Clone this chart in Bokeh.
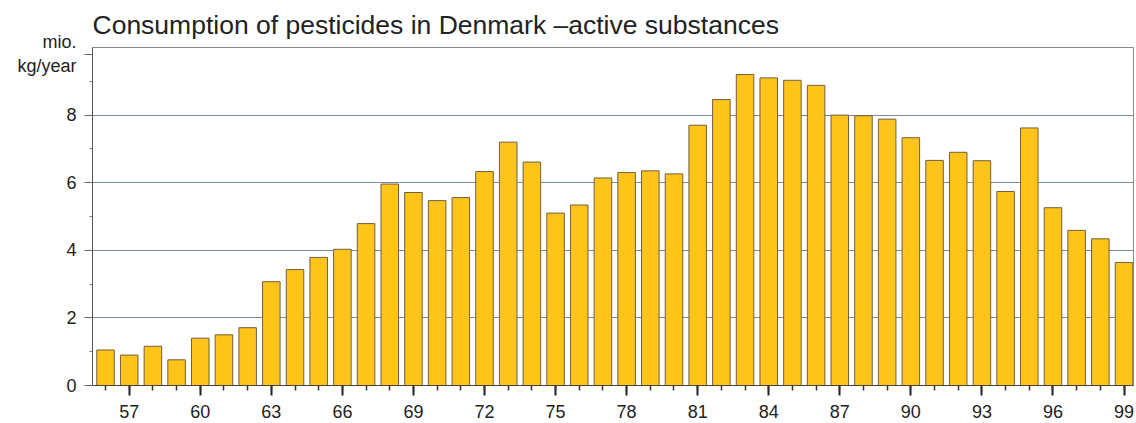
from bokeh.plotting import figure
from bokeh.models import FixedTicker, Range1d, ColumnDataSource
from bokeh.embed import file_html
from bokeh.resources import INLINE

years = list(range(56, 100))
consumption = [1.05, 0.90, 1.16, 0.76, 1.40, 1.50, 1.71, 3.07, 3.43, 3.79,
               4.03, 4.79, 5.96, 5.71, 5.47, 5.56, 6.33, 7.20, 6.61, 5.10,
               5.34, 6.14, 6.30, 6.35, 6.26, 7.70, 8.46, 9.20, 9.10, 9.03,
               8.88, 8.00, 7.98, 7.88, 7.33, 6.66, 6.90, 6.65, 5.74, 7.62,
               5.26, 4.59, 4.34, 3.64]
x_tick_labels = [57, 60, 63, 66, 69, 72, 75, 78, 81, 84, 87, 90, 93, 96, 99]
y_ticks = [0, 2, 4, 6, 8]
title_text = "Consumption of pesticides in Denmark \u2013active substances"
unit_label = "mio.\nkg/year"
unit_label_at = 9.8

FONT = "Liberation Sans"

p = figure(width=1136, height=423, output_backend="svg", toolbar_location=None,
           x_range=Range1d(55.45, 99.4), y_range=Range1d(0, 10),
           min_border_left=92, min_border_right=3, min_border_top=45, min_border_bottom=38)

p.title.text = title_text
p.title.text_font = FONT
p.title.text_font_size = "26.5px"
p.title.text_font_style = "normal"
p.title.text_color = "#222222"
p.title.align = "left"
p.title.offset = 0
p.title.standoff = 15

src = ColumnDataSource(dict(x=years, top=consumption))
p.vbar(x="x", top="top", width=0.74, bottom=0, source=src,
       fill_color="#FFC41A", line_color="#6f6040", line_width=1)

p.outline_line_color = "#8a8a8a"
p.outline_line_width = 1
p.background_fill_color = "white"
p.border_fill_color = "white"

p.xgrid.visible = False
p.ygrid.ticker = FixedTicker(ticks=[2, 4, 6, 8, 10])
p.ygrid.grid_line_color = "#7d8b96"
p.ygrid.grid_line_width = 1

xa = p.xaxis[0]
xa.ticker = FixedTicker(ticks=x_tick_labels, minor_ticks=years)
xa.axis_line_color = "#444444"
xa.major_tick_line_color = "#222222"
xa.major_tick_line_width = 2
xa.major_tick_out = 10
xa.major_tick_in = 0
xa.minor_tick_line_color = "#333333"
xa.minor_tick_line_width = 1.5
xa.minor_tick_out = 5
xa.minor_tick_in = 0
xa.major_label_text_font = FONT
xa.major_label_text_font_size = "18px"
xa.major_label_text_color = "#222222"
xa.major_label_standoff = 9

ya = p.yaxis[0]
ya.ticker = FixedTicker(ticks=y_ticks + [unit_label_at], minor_ticks=[1, 3, 5, 7, 9])
ya.major_label_overrides = {unit_label_at: unit_label}
ya.axis_line_color = "#555555"
ya.major_tick_line_color = "#666666"
ya.major_tick_out = 8
ya.major_tick_in = 0
ya.minor_tick_line_color = "#777777"
ya.minor_tick_out = 3
ya.minor_tick_in = 0
ya.major_label_text_font = FONT
ya.major_label_text_font_size = "18px"
ya.major_label_text_color = "#222222"
ya.major_label_standoff = 8

open("out.html", "w").write(file_html(p, INLINE))
